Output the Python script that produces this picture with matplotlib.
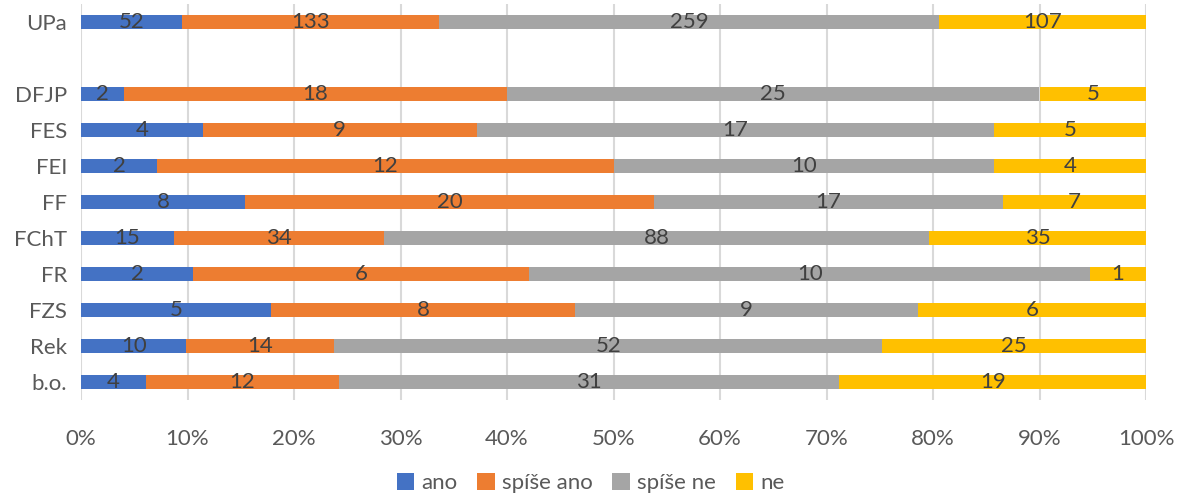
import matplotlib
matplotlib.use("Agg")
import matplotlib.pyplot as plt
import numpy as np

categories = ["UPa", "", "DFJP", "FES", "FEI", "FF", "FChT", "FR", "FZS", "Rek", "b.o."]
series_names = ["ano", "spíše ano", "spíše ne", "ne"]
ano =       [52, None, 2, 4, 2, 8, 15, 2, 5, 10, 4]
spise_ano = [133, None, 18, 9, 12, 20, 34, 6, 8, 14, 12]
spise_ne =  [259, None, 25, 17, 10, 17, 88, 10, 9, 52, 31]
ne =        [107, None, 5, 5, 4, 7, 35, 1, 6, 25, 19]
tick_labels = ["0%", "10%", "20%", "30%", "40%", "50%", "60%", "70%", "80%", "90%", "100%"]

colors = ["#4472C4", "#ED7D31", "#A5A5A5", "#FFC000"]

plt.rcParams['font.family'] = ['Lato', 'DejaVu Sans']
FS = 16

fig = plt.figure(figsize=(11.81, 4.98), dpi=100)
ax = fig.add_axes([81/1181, 1 - 400/498, (1146 - 81)/1181, 396/498])

series = [ano, spise_ano, spise_ne, ne]
valid = [i for i, c in enumerate(categories) if ano[i] is not None]
data = np.array([[s[i] for i in valid] for s in series], dtype=float)
totals = data.sum(axis=0)
y = np.array(valid)
left = np.zeros(len(valid))
for k, name in enumerate(series_names):
    frac = data[k] / totals
    ax.barh(y, frac, left=left, height=0.4, color=colors[k], label=name, zorder=3)
    for j in range(len(valid)):
        ax.text(left[j] + frac[j] / 2, y[j], f"{int(data[k][j])}", ha="center", va="center",
                fontsize=FS, color="#404040", zorder=4)
    left += frac

ax.set_ylim(len(categories) - 0.5, -0.5)
ax.set_xlim(0, 1)
ax.set_yticks(range(len(categories)))
ax.set_yticklabels(categories)
ax.set_xticks(np.linspace(0, 1, 11))
ax.set_xticklabels(tick_labels)
ax.tick_params(axis="both", length=0, labelsize=FS, labelcolor="#595959")
ax.tick_params(axis="x", pad=21)
ax.tick_params(axis="y", pad=10)
ax.grid(axis="x", color="#D9D9D9", linewidth=1.5, zorder=0)
for sp in ax.spines.values():
    sp.set_visible(False)

fig.legend(loc="center", bbox_to_anchor=(0.5, 1 - 483/498), ncol=4, frameon=False,
           fontsize=FS, handlelength=0.8, handleheight=0.8, handletextpad=0.3,
           columnspacing=0.9, labelcolor="#595959")

fig.savefig("out.png", dpi=100)
